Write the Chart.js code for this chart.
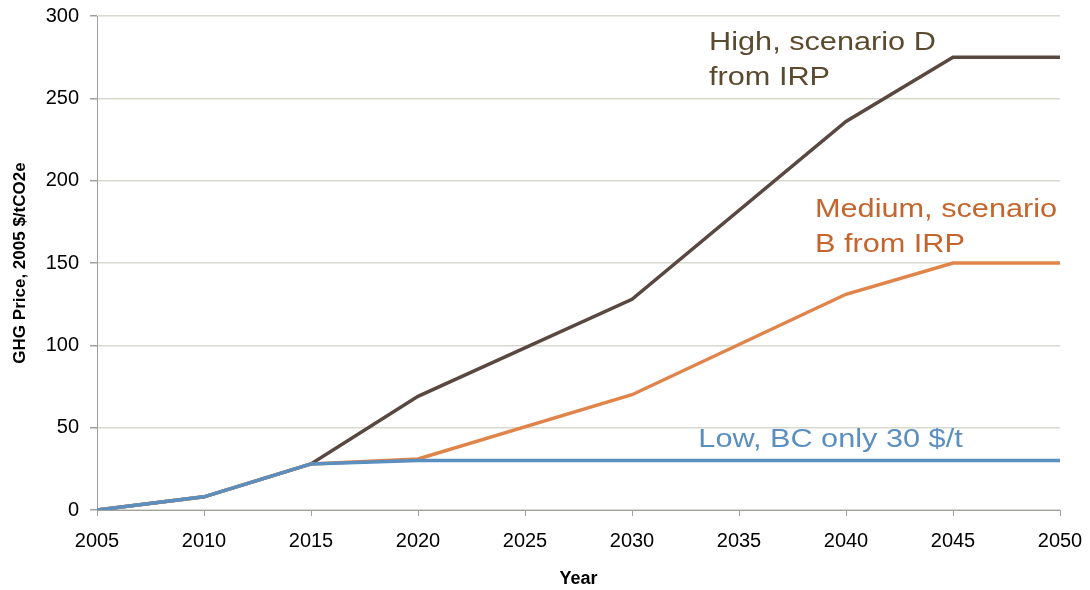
<!DOCTYPE html>
<html>
<head>
<meta charset="utf-8">
<script src="https://cdn.jsdelivr.net/npm/chart.js@4"></script>
<style>
  html, body { margin: 0; padding: 0; background: #fff; }
  #wrap { width: 1090px; height: 590px; }
</style>
</head>
<body>
<div id="wrap"><canvas id="ghgChart" width="1090" height="590"></canvas></div>
<script>
const years = [2005, 2010, 2015, 2020, 2030, 2040, 2045, 2050];
const highPrice = [0, 8, 28, 69, 128, 236, 275, 275];
const mediumPrice = [0, 8, 28, 31, 70, 131, 150, 150];
const lowPrice = [0, 8, 28, 30, 30, 30, 30, 30];

const xTicks = [2005, 2010, 2015, 2020, 2025, 2030, 2035, 2040, 2045, 2050];
const yTicks = [0, 50, 100, 150, 200, 250, 300];

// series labels drawn inside the plot, anchored in data units
const seriesLabels = [
    { lines: ['High, scenario D', 'from IRP'], x: 2033.6, y: 283.5, color: '#5b4a2e' },
    { lines: ['Medium, scenario', 'B from IRP'], x: 2038.55, y: 182, color: '#c5652d' },
    { lines: ['Low, BC only 30 $/t'], x: 2033.1, y: 42.5, color: '#5b8fbf' }
];

const FONT = "'Liberation Sans', Arial, sans-serif";

function toPoints(vals) {
    return years.map((yr, i) => ({ x: yr, y: vals[i] }));
}

const labelPlugin = {
    id: 'seriesLabels',
    afterDatasetsDraw(chart) {
        const ctx = chart.ctx;
        const xs = chart.scales.x, ys = chart.scales.y;
        ctx.save();
        ctx.font = '26px ' + FONT;
        ctx.textAlign = 'left';
        ctx.textBaseline = 'middle';
        seriesLabels.forEach(l => {
            ctx.fillStyle = l.color;
            const px = xs.getPixelForValue(l.x);
            const py = ys.getPixelForValue(l.y);
            l.lines.forEach((t, i) => {
                ctx.save();
                ctx.translate(px, py + i * 35);
                ctx.scale(1.18, 1);   // the original text is a little wide
                ctx.fillText(t, 0, 0);
                ctx.restore();
            });
        });
        ctx.restore();
    }
};

const ctx = document.getElementById('ghgChart').getContext('2d');

let ghgChart = new Chart(ctx, {
    type: 'line',
    data: {
        datasets: [{
            label: 'Low',
            data: toPoints(lowPrice),
            borderColor: '#5b8fbf',
            borderWidth: 3.5
        }, {
            label: 'Medium',
            data: toPoints(mediumPrice),
            borderColor: '#e0844a',
            borderWidth: 3.5
        }, {
            label: 'High',
            data: toPoints(highPrice),
            borderColor: '#594840',
            borderWidth: 3.5
        }]
    },
    options: {
        responsive: false,
        animation: false,
        elements: { point: { radius: 0 }, line: { tension: 0 } },
        layout: { padding: { top: 16, right: 30, left: 10, bottom: 0 } },
        plugins: { legend: { display: false }, tooltip: { enabled: false } },
        scales: {
            x: {
                type: 'linear',
                min: 2005,
                max: 2050,
                afterBuildTicks: axis => { axis.ticks = xTicks.map(v => ({ value: v })); },
                ticks: {
                    color: '#000',
                    font: { family: FONT, size: 20 },
                    padding: 13,
                    maxRotation: 0,
                    callback: v => String(v)
                },
                grid: { drawOnChartArea: false, drawTicks: true, tickLength: 6, tickColor: '#a0a0a0' },
                border: { color: '#a0a0a0', width: 1 },
                title: {
                    display: true,
                    text: 'Year',
                    color: '#000',
                    font: { family: FONT, size: 18, weight: 'bold' },
                    padding: { top: 4, bottom: 0 }
                },
                afterFit: s => { s.height = 80; s.paddingLeft = 0; s.paddingRight = 0; }
            },
            y: {
                min: 0,
                max: 300,
                afterBuildTicks: axis => { axis.ticks = yTicks.map(v => ({ value: v })); },
                ticks: {
                    color: '#000',
                    font: { family: FONT, size: 20 },
                    padding: 11
                },
                grid: { color: '#d9d9cf', lineWidth: 1.5, tickLength: 7, tickColor: '#a0a0a0' },
                border: { color: '#a0a0a0', width: 1 },
                title: {
                    display: true,
                    text: 'GHG Price, 2005 $/tCO2e',
                    color: '#000',
                    font: { family: FONT, size: 17, weight: 'bold' },
                    padding: { top: 0, bottom: 10 }
                },
                afterFit: s => { s.width = 87; s.paddingTop = 0; s.paddingBottom = 0; }
            }
        }
    },
    plugins: [labelPlugin]
});
</script>
</body>
</html>
